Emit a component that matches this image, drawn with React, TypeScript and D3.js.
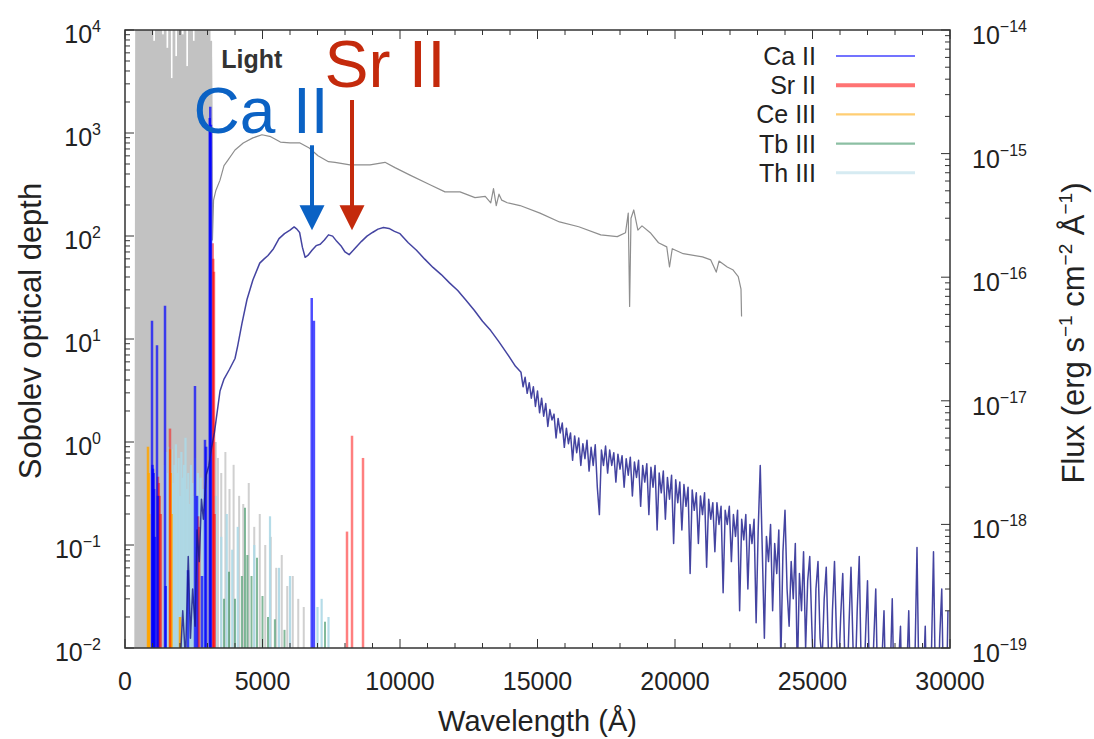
import React from 'react';
import * as d3 from 'd3';

// ---------------- data ----------------
const X_TICKS = [0, 5000, 10000, 15000, 20000, 25000, 30000];
const TAU_EXPONENTS = [-2, -1, 0, 1, 2, 3, 4];
const FLUX_EXPONENTS = [-19, -18, -17, -16, -15, -14];
const FLUX_UNIT = 1e-17; // spectra below are given in units of 1e-17 erg s^-1 cm^-2 Å^-1
const LIGHT_NOISY_END = 3170; // Å: below this the "Light" spectrum is pure noise

// "Light" spectrum (gray), [wavelength Å, flux / 1e-17]
const lightSpectrum: [number, number][] = [
  [380, 0.001], [420, 3000], [460, 0.0005], [500, 5000], [540, 0.002], [580, 2000], [620, 0.001], [660, 4000],
  [700, 0.003], [740, 3500], [780, 0.001], [820, 1500], [860, 0.0008], [900, 6000], [940, 0.002], [980, 2500],
  [1020, 0.001], [1060, 800], [1100, 0.004], [1140, 3000], [1180, 0.001], [1220, 1200], [1260, 0.002], [1300, 5000],
  [1340, 0.0015], [1380, 900], [1420, 0.003], [1460, 2200], [1500, 0.001], [1540, 700], [1580, 0.002], [1620, 1800],
  [1660, 0.001], [1700, 400], [1740, 0.003], [1780, 2500], [1820, 0.001], [1860, 600], [1900, 0.002], [1940, 1500],
  [1980, 0.001], [2020, 3000], [2060, 0.002], [2100, 900], [2140, 0.001], [2180, 2000], [2220, 0.003], [2260, 500],
  [2300, 0.001], [2340, 1600], [2380, 0.002], [2420, 4000], [2460, 0.001], [2500, 800], [2540, 0.003], [2580, 2500],
  [2620, 0.001], [2660, 1200], [2700, 0.002], [2740, 3000], [2780, 0.001], [2820, 2000], [2860, 0.004], [2900, 5000],
  [2940, 0.002], [2980, 3000], [3020, 0.003], [3060, 1500], [3100, 0.01], [3140, 800], [3180, 20],
  [3220, 42], [3300, 50], [3455, 61], [3600, 80], [3750, 89], [4000, 107], [4300, 122], [4650, 134], [4980, 142],
  [5300, 137], [5650, 124], [6000, 122], [6364, 122], [6700, 111], [7018, 96], [7400, 86], [7636, 85], [8182, 81],
  [8909, 81], [9455, 85], [9818, 77], [10364, 67], [11091, 56], [11636, 49], [12182, 49], [12727, 44], [13100, 45],
  [13300, 40], [13400, 52], [13500, 38], [13600, 47], [13700, 42], [13900, 40], [14364, 38], [15091, 33], [15800, 28],
  [16500, 25.6], [17300, 22], [17900, 21.3], [18200, 22.9], [18300, 33], [18350, 5.8], [18400, 30], [18500, 35],
  [18650, 24], [18800, 26], [19100, 22.9], [19400, 19], [19700, 17.6], [19800, 12.1], [19900, 17], [20300, 15.5],
  [21000, 14.6], [21300, 13.8], [21500, 11], [21600, 13.5], [21900, 12.1], [22100, 11.5], [22300, 10.1], [22400, 8],
  [22420, 4.8],
];

// model spectrum (navy), [wavelength Å, flux / 1e-17]
const modelSpectrum: [number, number][] = [
  [1950, 0.004], [2100, 0.02], [2200, 0.008], [2300, 0.055], [2380, 0.012], [2460, 0.03], [2550, 0.015], [2620, 0.09],
  [2700, 0.05], [2780, 0.16], [2850, 0.11], [2950, 0.25], [3050, 0.3], [3150, 0.42], [3250, 0.55], [3455, 1.2],
  [3600, 1.5], [3800, 1.8], [4000, 2.2], [4100, 2.8], [4250, 4.2], [4436, 6.6], [4650, 9.5], [4900, 13], [5050, 14],
  [5200, 15], [5400, 17], [5600, 20.5], [5800, 22.5], [6000, 24], [6150, 25.5], [6250, 24.5], [6350, 23], [6450, 17.5],
  [6550, 14.5], [6650, 15], [6800, 16.5], [6950, 18], [7100, 18.5], [7250, 20], [7400, 22], [7550, 21.5], [7700, 19.5],
  [7850, 18], [8000, 16], [8150, 15.2], [8300, 16.5], [8450, 18], [8600, 19.5], [8800, 21.5], [9000, 23], [9200, 24.5],
  [9400, 25.2], [9600, 24.8], [9800, 23.5], [10000, 22.5], [10300, 19], [10600, 16.5], [10900, 14], [11200, 12],
  [11500, 10.5], [11800, 9], [12100, 7.8], [12400, 6.5], [12700, 5.4], [13000, 4.4], [13300, 3.7], [13600, 3.0],
  [13900, 2.4], [14200, 1.9],
  [14400, 1.7], [14475, 1.3], [14550, 1.55], [14625, 1.15], [14700, 1.4], [14775, 1.05], [14850, 1.3], [14925, 0.9],
  [15000, 1.2], [15075, 0.8], [15150, 1.05], [15225, 0.75], [15300, 0.95], [15375, 0.62], [15450, 0.85], [15525, 0.7],
  [15600, 0.78], [15675, 0.5], [15750, 0.72], [15825, 0.55], [15900, 0.66], [15975, 0.42], [16050, 0.6], [16125, 0.45],
  [16200, 0.55], [16275, 0.33], [16350, 0.52], [16425, 0.38], [16500, 0.5], [16575, 0.3], [16650, 0.45], [16725, 0.34],
  [16800, 0.48], [16875, 0.27], [16950, 0.42], [17025, 0.3], [17100, 0.44], [17175, 0.2], [17250, 0.12], [17325, 0.4],
  [17400, 0.3], [17475, 0.43], [17550, 0.26], [17625, 0.4], [17700, 0.3], [17775, 0.38], [17850, 0.22], [17925, 0.37],
  [18000, 0.28], [18075, 0.36], [18150, 0.2], [18225, 0.34], [18300, 0.25], [18375, 0.35], [18450, 0.17], [18525, 0.32],
  [18600, 0.24], [18675, 0.33], [18750, 0.14], [18825, 0.3], [18900, 0.22], [18975, 0.31], [19050, 0.12], [19125, 0.29],
  [19200, 0.2], [19275, 0.3], [19350, 0.09], [19425, 0.26], [19500, 0.18], [19575, 0.27], [19650, 0.11], [19725, 0.24],
  [19800, 0.16], [19875, 0.25], [19950, 0.07], [20025, 0.23], [20100, 0.15], [20175, 0.22], [20250, 0.09], [20325, 0.21],
  [20400, 0.14], [20475, 0.2], [20550, 0.04], [20625, 0.19], [20700, 0.13], [20775, 0.18], [20850, 0.07], [20925, 0.17],
  [21000, 0.12], [21075, 0.18], [21150, 0.045], [21225, 0.16], [21300, 0.11], [21375, 0.15], [21450, 0.06], [21525, 0.15],
  [21600, 0.1], [21675, 0.14], [21750, 0.028], [21825, 0.13], [21900, 0.1], [21975, 0.14], [22050, 0.05], [22125, 0.12],
  [22200, 0.08], [22275, 0.13], [22350, 0.02], [22425, 0.11], [22500, 0.075], [22575, 0.12], [22650, 0.03], [22725, 0.1],
  [22800, 0.07], [22875, 0.11], [22950, 0.016], [23025, 0.09], [23100, 0.3], [23175, 0.06], [23250, 0.012], [23325, 0.08],
  [23400, 0.05], [23475, 0.1], [23550, 0.02], [23625, 0.07], [23700, 0.04], [23775, 0.09], [23850, 0.008], [23925, 0.06],
  [24000, 0.13], [24075, 0.03], [24150, 0.015], [24225, 0.05], [24300, 0.025], [24375, 0.07], [24450, 0.006], [24525, 0.04],
  [24600, 0.02], [24675, 0.06], [24750, 0.01], [24825, 0.035], [24900, 0.055], [24975, 0.015], [25050, 0.005], [25125, 0.03],
  [25200, 0.05], [25275, 0.012], [25350, 0.008], [25425, 0.025], [25500, 0.045], [25575, 0.01], [25650, 0.004], [25725, 0.02],
  [25800, 0.05], [25875, 0.012], [25950, 0.006], [26025, 0.018], [26100, 0.04], [26175, 0.008], [26250, 0.004], [26325, 0.015],
  [26400, 0.045], [26475, 0.01], [26550, 0.005], [26625, 0.02], [26700, 0.055], [26775, 0.006], [26850, 0.003], [26925, 0.012],
  [27000, 0.035], [27075, 0.005], [27150, 0.003], [27225, 0.011], [27300, 0.03], [27375, 0.004], [27450, 0.003], [27525, 0.008],
  [27600, 0.02], [27675, 0.003], [27750, 0.002], [27825, 0.006], [27900, 0.025], [27975, 0.003], [28050, 0.002], [28125, 0.007],
  [28200, 0.015], [28275, 0.002], [28350, 0.002], [28425, 0.006], [28500, 0.02], [28575, 0.003], [28650, 0.002], [28725, 0.008],
  [28800, 0.065], [28875, 0.004], [28950, 0.002], [29025, 0.005], [29100, 0.015], [29175, 0.002], [29250, 0.002], [29325, 0.009],
  [29400, 0.06], [29475, 0.004], [29550, 0.002], [29625, 0.012], [29700, 0.03], [29775, 0.003], [29850, 0.002], [29925, 0.02],
];

// Sobolev optical depths, [wavelength Å, tau]
const otherLines: [number, number][] = [
  [3300, 1.0], [3380, 0.7], [3500, 0.5], [3650, 0.8], [3800, 0.35], [3950, 0.6], [4150, 0.3], [4300, 0.25], [4500, 0.4],
  [4700, 0.15], [4900, 0.2], [5100, 0.1], [5300, 0.12], [5500, 0.06], [5700, 0.08], [5900, 0.04], [6100, 0.05],
  [6300, 0.03], [6500, 0.025],
];
const thIIILines: [number, number][] = [
  [1450, 0.6], [1500, 0.8], [1550, 0.5], [1600, 0.9], [1650, 0.7], [1700, 0.85], [1750, 0.4], [1800, 0.6], [1850, 0.95],
  [1900, 0.5], [1950, 0.7], [2000, 0.3], [2050, 0.8], [2100, 0.45], [2150, 0.6], [2200, 1.1], [2250, 0.35], [2300, 0.5],
  [2350, 0.25], [2400, 0.6], [2450, 0.4], [2500, 0.3], [2550, 0.7], [2600, 0.2], [2650, 0.5], [2700, 0.3], [2750, 0.45],
  [2800, 0.2], [2850, 0.35], [2900, 0.15], [3300, 0.3], [3500, 0.12], [3700, 0.2], [3900, 0.09], [4100, 0.15],
  [4700, 0.1], [5273, 0.19], [5600, 0.06], [6000, 0.05], [7000, 0.025], [7150, 0.03], [7400, 0.02],
];
const tbIIILines: [number, number][] = [
  [3600, 0.03], [3782, 0.055], [4000, 0.03], [4250, 0.05], [4364, 0.23], [4450, 0.08], [4600, 0.05], [4800, 0.075],
  [5000, 0.032], [5200, 0.02], [5450, 0.019], [5800, 0.015], [7273, 0.018],
];
const ceIIILines: [number, number][] = [
  [836, 0.9], [860, 0.5], [880, 0.2], [1640, 0.85], [1660, 0.5], [1690, 0.2], [2000, 0.02],
];
const srIILines: [number, number][] = [
  [1200, 0.46], [1230, 0.4], [1260, 0.3], [1300, 0.2], [1636, 1.35], [2660, 0.19], [2700, 0.15], [3190, 85],
  [3210, 60], [3236, 45], [3260, 0.2], [8073, 0.135], [8255, 1.15], [8655, 0.7],
];
const caIILines: [number, number][] = [
  [982, 15], [1000, 0.6], [1018, 0.55], [1040, 0.5], [1060, 0.35], [1090, 0.12], [1164, 8.7], [1200, 0.3], [1455, 21],
  [1480, 0.04], [2290, 0.057], [2545, 3.5], [2620, 0.3], [2800, 0.05], [2909, 1.05], [2950, 0.9], [3080, 1400],
  [3100, 1800], [3127, 1200], [6790, 25], [6870, 15],
];

const LEGEND_LABELS = ['Ca II', 'Sr II', 'Ce III', 'Tb III', 'Th III'];
const LEGEND_COLORS = ['#0000ff', '#ff0000', '#ffa500', '#2e8b57', '#add8e6'];

// annotations: arrow wavelength, arrow top tau, tip tau, label centre wavelength, label baseline tau
const ANNOTATIONS = [
  { label: 'Ca II', color: '#0b62c4', wave: 6800, top: 760, tip: 114, labelWave: 4945, labelTau: 1000, size: 64 },
  { label: 'Sr II', color: '#c42a0c', wave: 8255, top: 2090, tip: 114, labelWave: 9455, labelTau: 2800, size: 66 },
];

// ---------------- chart ----------------
const W = 1094, H = 739;
const M = { left: 125, right: 950, top: 30, bottom: 648 };
const FONT = '"Liberation Sans", Arial, Helvetica, sans-serif';

const x = d3.scaleLinear().domain([0, 30000]).range([M.left, M.right]);
const yTau = d3.scaleLog().domain([1e-2, 1e4]).range([M.bottom, M.top]);
const yFlux = d3.scaleLog().domain([1e-19, 1e-14]).range([M.bottom, M.top]);

const fluxLine = d3.line<[number, number]>()
  .x(d => x(d[0]))
  .y(d => yFlux(d[1] * FLUX_UNIT));

function sup(e: number) {
  return e < 0 ? '\u2212' + Math.abs(e) : String(e);
}

function Sticks({ data, color, width, opacity }: { data: [number, number][]; color: string; width: number; opacity: number }) {
  return (
    <g stroke={color} strokeWidth={width} strokeOpacity={opacity}>
      {data.map((d, i) => (
        <line key={i} x1={x(d[0])} x2={x(d[0])} y1={yTau(1e-2) + 2} y2={yTau(d[1])} />
      ))}
    </g>
  );
}

export default function App() {
  const axisColor = '#333';
  const tickLen = 9, minorLen = 5;

  const xMinor = d3.range(0, 30001, 1000);
  const tauMinor: number[] = [];
  TAU_EXPONENTS.slice(0, -1).forEach(e => { for (let k = 2; k <= 9; k++) tauMinor.push(k * Math.pow(10, e)); });
  const fluxMinor: number[] = [];
  FLUX_EXPONENTS.slice(0, -1).forEach(e => { for (let k = 2; k <= 9; k++) fluxMinor.push(k * Math.pow(10, e)); });
  const xSplit = x(LIGHT_NOISY_END);
  const lightPath = fluxLine(lightSpectrum) || '';

  return (
    <svg width={W} height={H} style={{ position: 'absolute', left: 0, top: 0, background: '#fff' }} fontFamily={FONT}>
      <defs>
        <clipPath id="plot"><rect x={M.left} y={M.top} width={M.right - M.left} height={M.bottom - M.top} /></clipPath>
        <clipPath id="noisy"><rect x={M.left} y={M.top} width={xSplit - M.left} height={M.bottom - M.top} /></clipPath>
        <clipPath id="smooth"><rect x={xSplit} y={M.top - 5} width={M.right - xSplit} height={M.bottom - M.top + 5} /></clipPath>
      </defs>
      <rect x={0} y={0} width={W} height={H} fill="#fff" />

      <g clipPath="url(#plot)">
        <g clipPath="url(#noisy)">
          <path d={lightPath} fill="none" stroke="#c2c2c2" strokeWidth={2.6} strokeLinejoin="round" />
        </g>
        <g clipPath="url(#smooth)">
          <path d={lightPath} fill="none" stroke="#8e8e8e" strokeWidth={1.2} strokeLinejoin="round" />
        </g>
        <Sticks data={otherLines} color="#c4c4c4" width={2} opacity={0.8} />
        <Sticks data={thIIILines} color="#add8e6" width={2.2} opacity={0.9} />
        <Sticks data={tbIIILines} color="#2e8b57" width={2} opacity={0.6} />
        <Sticks data={ceIIILines} color="#ffa500" width={2.5} opacity={0.85} />
        <Sticks data={srIILines} color="#ff0000" width={2.5} opacity={0.5} />
        <Sticks data={caIILines} color="#0000ff" width={2.5} opacity={0.7} />
        <path d={fluxLine(modelSpectrum) || ''} fill="none" stroke="#15158a" strokeWidth={1.5} strokeOpacity={0.8} strokeLinejoin="round" />
      </g>

      {/* frame */}
      <rect x={M.left} y={M.top} width={M.right - M.left} height={M.bottom - M.top} fill="none" stroke={axisColor} strokeWidth={1.5} />

      {/* ticks */}
      <g stroke={axisColor} strokeWidth={1}>
        {xMinor.map(v => {
          const len = X_TICKS.includes(v) ? tickLen : minorLen;
          return (
            <g key={v}>
              <line x1={x(v)} x2={x(v)} y1={M.bottom} y2={M.bottom - len} />
              <line x1={x(v)} x2={x(v)} y1={M.top} y2={M.top + len} />
            </g>
          );
        })}
        {TAU_EXPONENTS.map(e => (
          <line key={'t' + e} x1={M.left} x2={M.left + tickLen} y1={yTau(Math.pow(10, e))} y2={yTau(Math.pow(10, e))} />
        ))}
        {tauMinor.map((v, i) => (
          <line key={'tm' + i} x1={M.left} x2={M.left + minorLen} y1={yTau(v)} y2={yTau(v)} />
        ))}
        {FLUX_EXPONENTS.map(e => (
          <line key={'f' + e} x1={M.right} x2={M.right - tickLen} y1={yFlux(Math.pow(10, e))} y2={yFlux(Math.pow(10, e))} />
        ))}
        {fluxMinor.map((v, i) => (
          <line key={'fm' + i} x1={M.right} x2={M.right - minorLen} y1={yFlux(v)} y2={yFlux(v)} />
        ))}
      </g>

      {/* tick labels */}
      <g fill="#222" fontSize={25}>
        {X_TICKS.map(v => (
          <text key={v} x={x(v)} y={690} textAnchor="middle">{v}</text>
        ))}
        {TAU_EXPONENTS.map(e => (
          <text key={'tl' + e} x={101} y={yTau(Math.pow(10, e)) + 13} textAnchor="end">
            10<tspan dy={-11} fontSize={16}>{sup(e)}</tspan>
          </text>
        ))}
        {FLUX_EXPONENTS.map(e => (
          <text key={'fl' + e} x={972} y={yFlux(Math.pow(10, e)) + 14}>
            10<tspan dy={-12} fontSize={16}>{sup(e)}</tspan>
          </text>
        ))}
      </g>

      {/* axis titles */}
      <g fill="#222">
        <text x={(M.left + M.right) / 2} y={731} textAnchor="middle" fontSize={29}>Wavelength (Å)</text>
        <text transform={`translate(41,${(M.top + M.bottom) / 2 - 8}) rotate(-90)`} textAnchor="middle" fontSize={31}>Sobolev optical depth</text>
        <text transform={`translate(1084,${(M.top + M.bottom) / 2 - 6}) rotate(-90)`} textAnchor="middle" fontSize={31}>
          Flux (erg s<tspan dy={-12} fontSize={19}>−1</tspan>
          <tspan dy={12}> cm</tspan><tspan dy={-12} fontSize={19}>−2</tspan>
          <tspan dy={12}> Å</tspan><tspan dy={-12} fontSize={19}>−1</tspan>
          <tspan dy={12}>)</tspan>
        </text>
      </g>

      {/* legend */}
      <g fontSize={25} fill="#222">
        {LEGEND_LABELS.map((lab, i) => {
          const yy = 56 + i * 29.2;
          return (
            <g key={lab}>
              <text x={816} y={yy + 9} textAnchor="end">{lab}</text>
              <line x1={836} x2={915} y1={yy} y2={yy} stroke={LEGEND_COLORS[i]} strokeOpacity={i === 4 ? 0.5 : 0.55}
                strokeWidth={i === 1 ? 4 : i === 4 ? 3 : 2.2} />
            </g>
          );
        })}
      </g>

      {/* Light label */}
      <text x={x(3500)} y={68} fontSize={25} fontWeight="bold" fill="#333">Light</text>

      {/* annotations */}
      {ANNOTATIONS.map(a => {
        const ax = x(a.wave);
        const y0 = yTau(a.top), y1 = yTau(a.tip);
        const head = 25, hw = 12.5;
        return (
          <g key={a.label}>
            <line x1={ax} x2={ax} y1={y0} y2={y1 - head + 2} stroke={a.color} strokeWidth={4} />
            <path d={`M${ax - hw},${y1 - head} L${ax + hw},${y1 - head} L${ax},${y1} Z`} fill={a.color} />
            <text x={x(a.labelWave)} y={yTau(a.labelTau)} textAnchor="middle" fontSize={a.size} fill={a.color}>{a.label}</text>
          </g>
        );
      })}
    </svg>
  );
}
